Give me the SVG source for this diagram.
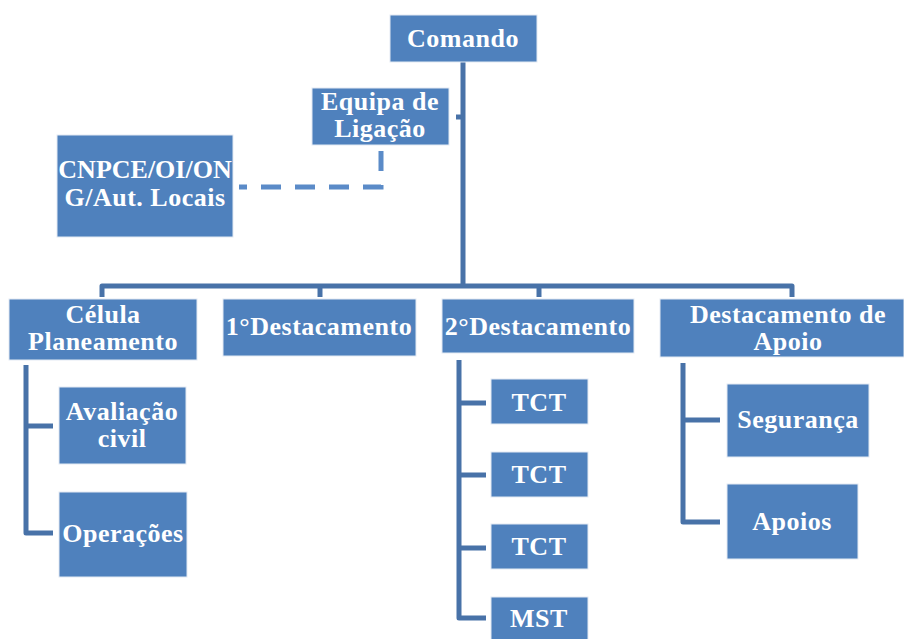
<svg xmlns="http://www.w3.org/2000/svg" width="904" height="639" viewBox="0 0 904 639">
  <style>
    .box { fill: #4F81BD; stroke: #E3EAF3; stroke-width: 1; }
    .lbl { font-family: "Liberation Serif", "Times New Roman", serif; font-weight: bold; font-size: 26px; letter-spacing: 0.5px; fill: #FFFFFF; text-anchor: middle; }
    .link { fill: none; stroke: #4872A8; stroke-width: 5; stroke-linejoin: round; stroke-linecap: butt; }
    .dash { fill: none; stroke: #5B8BC8; stroke-width: 5; stroke-dasharray: 20 14; }
  </style>
  <rect width="904" height="639" fill="#FFFFFF"/>

  <g id="connectors">
    <path class="link" d="M463 62 V286"/>
    <path class="link" d="M456 117 H463"/>
    <path class="link" d="M102 297 V286 H792 V297"/>
    <path class="link" d="M320 286 V297"/>
    <path class="link" d="M539 286 V297"/>
    <path class="link" d="M26 365 V533 H53 M26 426 H53"/>
    <path class="link" d="M459 360 V618 H486 M459 403 H486 M459 475 H486 M459 548 H486"/>
    <path class="link" d="M683 363 V522 H720 M683 420 H720"/>
    <path class="dash" d="M381 151 V187 H239"/>
  </g>

  <g id="comando">
    <rect class="box" x="390" y="15" width="147" height="47"/>
    <text class="lbl" x="463" y="47">Comando</text>
  </g>
  <g id="equipa-ligacao">
    <rect class="box" x="312" y="88" width="137" height="57"/>
    <text class="lbl" x="380" y="110">Equipa de</text>
    <text class="lbl" x="380" y="137">Ligação</text>
  </g>
  <g id="cnpce">
    <rect class="box" x="57" y="135" width="176" height="102"/>
    <text class="lbl" x="145" y="178" style="letter-spacing:0">CNPCE/OI/ON</text>
    <text class="lbl" x="145" y="206">G/Aut. Locais</text>
  </g>
  <g id="celula-planeamento">
    <rect class="box" x="9" y="299" width="188" height="61"/>
    <text class="lbl" x="103" y="323">Célula</text>
    <text class="lbl" x="103" y="350">Planeamento</text>
  </g>
  <g id="destacamento-1">
    <rect class="box" x="223" y="299" width="193" height="57"/>
    <text class="lbl" x="319" y="335">1°Destacamento</text>
  </g>
  <g id="destacamento-2">
    <rect class="box" x="442" y="299" width="192" height="54"/>
    <text class="lbl" x="538" y="335">2°Destacamento</text>
  </g>
  <g id="destacamento-apoio">
    <rect class="box" x="660" y="299" width="244" height="58"/>
    <text class="lbl" x="788" y="323">Destacamento de</text>
    <text class="lbl" x="788" y="350">Apoio</text>
  </g>
  <g id="avaliacao-civil">
    <rect class="box" x="59" y="387" width="127" height="77"/>
    <text class="lbl" x="122" y="420">Avaliação</text>
    <text class="lbl" x="122" y="447">civil</text>
  </g>
  <g id="operacoes">
    <rect class="box" x="59" y="492" width="128" height="85"/>
    <text class="lbl" x="123" y="542">Operações</text>
  </g>
  <g id="tct-1">
    <rect class="box" x="491" y="379" width="97" height="45"/>
    <text class="lbl" x="539" y="411">TCT</text>
  </g>
  <g id="tct-2">
    <rect class="box" x="491" y="452" width="97" height="45"/>
    <text class="lbl" x="539" y="483">TCT</text>
  </g>
  <g id="tct-3">
    <rect class="box" x="491" y="524" width="97" height="45"/>
    <text class="lbl" x="539" y="555">TCT</text>
  </g>
  <g id="mst">
    <rect class="box" x="491" y="597" width="97" height="45"/>
    <text class="lbl" x="539" y="627">MST</text>
  </g>
  <g id="seguranca">
    <rect class="box" x="727" y="384" width="142" height="73"/>
    <text class="lbl" x="798" y="428">Segurança</text>
  </g>
  <g id="apoios">
    <rect class="box" x="727" y="484" width="131" height="75"/>
    <text class="lbl" x="792" y="530">Apoios</text>
  </g>
</svg>
